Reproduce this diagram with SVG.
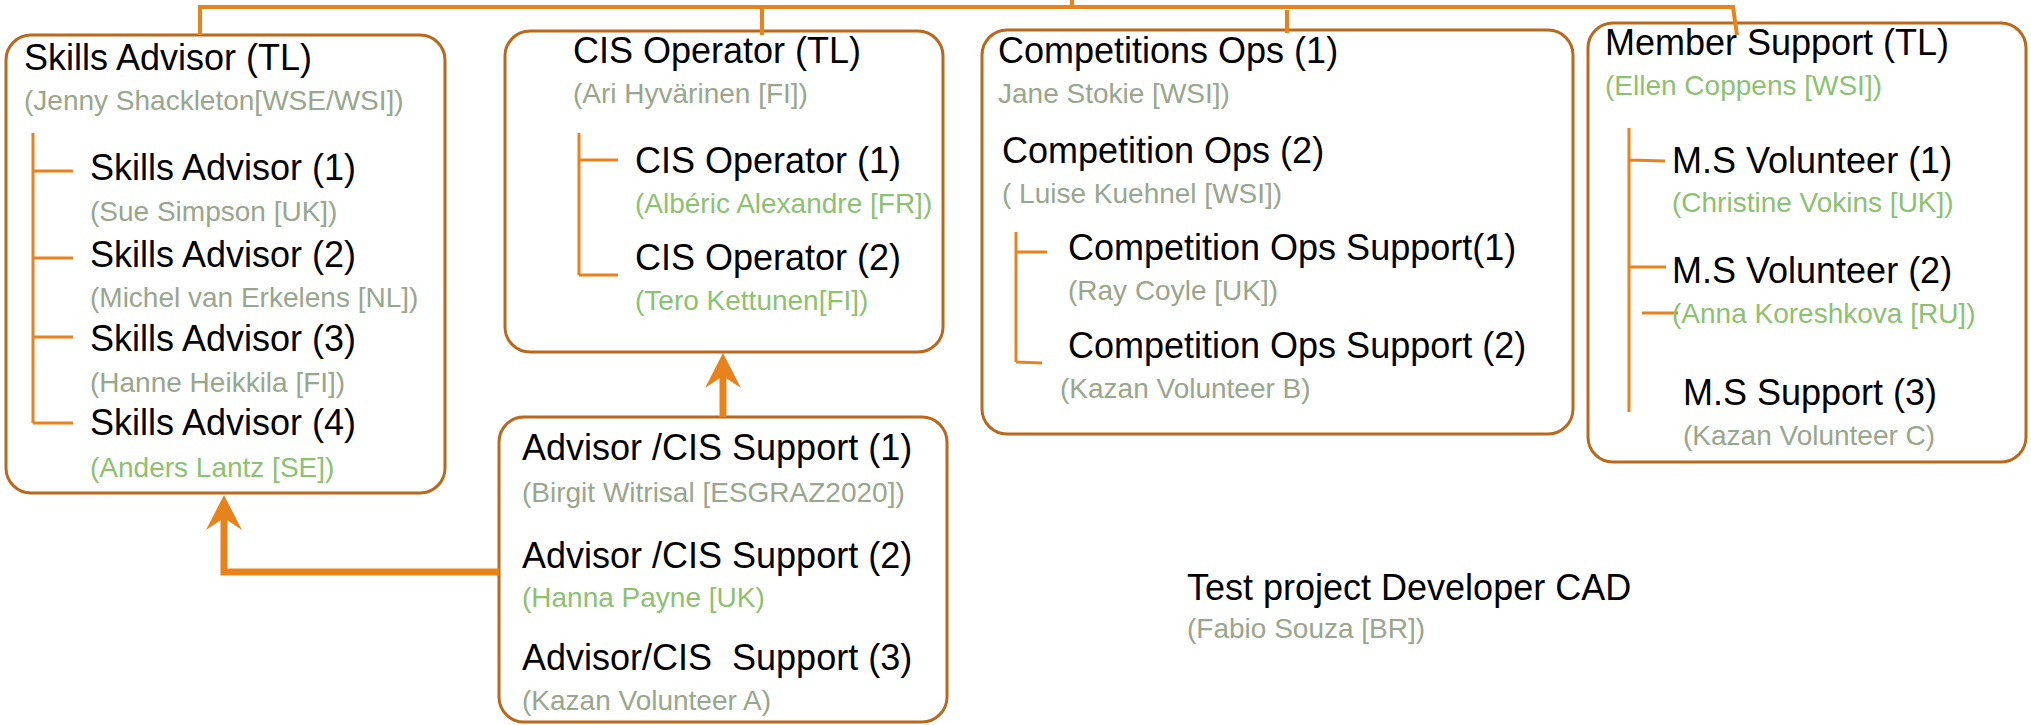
<svg xmlns="http://www.w3.org/2000/svg" width="2031" height="725" viewBox="0 0 2031 725">
<defs>
<style>
.box{fill:#fff;stroke:#B8691C;stroke-width:3}
.con{fill:none;stroke:#E8821A;stroke-width:4}
.br{fill:none;stroke:#E8821A;stroke-width:3}
.big{fill:none;stroke:#E8821A;stroke-width:7}
.t{font-family:"Liberation Sans",Arial,sans-serif;font-size:36px;fill:#000;white-space:pre}
.g{font-family:"Liberation Sans",Arial,sans-serif;font-size:28px;fill:#98A68C}
.gr{font-family:"Liberation Sans",Arial,sans-serif;font-size:28px;fill:#8CC170}
</style>
<marker id="ah" viewBox="0 0 36 36" refX="12" refY="18" markerWidth="36" markerHeight="36" markerUnits="userSpaceOnUse" orient="auto">
<path d="M35 18 L0 0 L12 18 L0 36 Z" fill="#E8821A"/>
</marker>
</defs>
<g id="skills-advisor">
<rect class="box" x="6" y="35" width="439" height="458" rx="25"/>
<path class="br" d="M33 133 V423 M33 171 H73 M33 258 H73 M33 337 H73 M33 423 H73"/>
<text class="t" x="24" y="70">Skills Advisor (TL)</text>
<text class="g" x="24" y="110">(Jenny Shackleton[WSE/WSI])</text>
<text class="t" x="90" y="180">Skills Advisor (1)</text>
<text class="g" x="90" y="221">(Sue Simpson [UK])</text>
<text class="t" x="90" y="267">Skills Advisor (2)</text>
<text class="g" x="90" y="307">(Michel van Erkelens [NL])</text>
<text class="t" x="90" y="351">Skills Advisor (3)</text>
<text class="g" x="90" y="392">(Hanne Heikkila [FI])</text>
<text class="t" x="90" y="435">Skills Advisor (4)</text>
<text class="gr" x="90" y="477">(Anders Lantz [SE])</text>
</g>
<g id="cis-operator">
<rect class="box" x="505" y="31" width="438" height="321" rx="25"/>
<path class="br" d="M579 133 V275 M579 160 H618 M579 275 H618"/>
<text class="t" x="573" y="63">CIS Operator (TL)</text>
<text class="g" x="573" y="103">(Ari Hyvärinen [FI])</text>
<text class="t" x="635" y="173">CIS Operator (1)</text>
<text class="gr" x="635" y="213">(Albéric Alexandre [FR])</text>
<text class="t" x="635" y="270">CIS Operator (2)</text>
<text class="gr" x="635" y="310">(Tero Kettunen[FI])</text>
</g>
<g id="competitions-ops">
<rect class="box" x="982" y="30" width="591" height="404" rx="25"/>
<path class="br" d="M1016 232 V362 M1016 252 H1047 M1016 362 L1042 363"/>
<text class="t" x="998" y="63">Competitions Ops (1)</text>
<text class="g" x="998" y="103">Jane Stokie [WSI])</text>
<text class="t" x="1002" y="163">Competition Ops (2)</text>
<text class="g" x="1002" y="203">( Luise Kuehnel [WSI])</text>
<text class="t" x="1068" y="260">Competition Ops Support(1)</text>
<text class="g" x="1068" y="300">(Ray Coyle [UK])</text>
<text class="t" x="1068" y="358">Competition Ops Support (2)</text>
<text class="g" x="1060" y="398">(Kazan Volunteer B)</text>
</g>
<g id="member-support">
<rect class="box" x="1588" y="23" width="438" height="439" rx="25"/>
<path class="br" d="M1629 128 V412 M1629 160 L1665 161 M1629 267 H1666 M1642 313 H1678"/>
<text class="t" x="1605" y="55">Member Support (TL)</text>
<text class="gr" x="1605" y="95">(Ellen Coppens [WSI])</text>
<text class="t" x="1672" y="173">M.S Volunteer (1)</text>
<text class="gr" x="1672" y="212">(Christine Vokins [UK])</text>
<text class="t" x="1672" y="283">M.S Volunteer (2)</text>
<text class="gr" x="1672" y="323">(Anna Koreshkova [RU])</text>
<text class="t" x="1683" y="405">M.S Support (3)</text>
<text class="g" x="1683" y="445">(Kazan Volunteer C)</text>
</g>
<g id="advisor-cis-support">
<rect class="box" x="499" y="417" width="448" height="305" rx="25"/>
<text class="t" x="522" y="460">Advisor /CIS Support (1)</text>
<text class="g" x="522" y="502">(Birgit Witrisal [ESGRAZ2020])</text>
<text class="t" x="522" y="568">Advisor /CIS Support (2)</text>
<text class="gr" x="522" y="607">(Hanna Payne [UK)</text>
<text class="t" x="522" y="670" xml:space="preserve">Advisor/CIS  Support (3)</text>
<text class="g" x="522" y="710">(Kazan Volunteer A)</text>
</g>
<g id="test-project-developer">
<text class="t" x="1187" y="600">Test project Developer CAD</text>
<text class="g" x="1187" y="638">(Fabio Souza [BR])</text>
</g>
<g id="connectors">
<path class="con" d="M200 35 V7 H1733 L1737 35"/>
<path class="con" d="M762 7 V35"/>
<path class="con" d="M1072 0 V7"/>
<path class="con" d="M1287 10 V33"/>
<path class="big" d="M723 417 V376" marker-end="url(#ah)"/>
<path class="big" d="M499 572 H224 V518" marker-end="url(#ah)"/>
</g>
</svg>
